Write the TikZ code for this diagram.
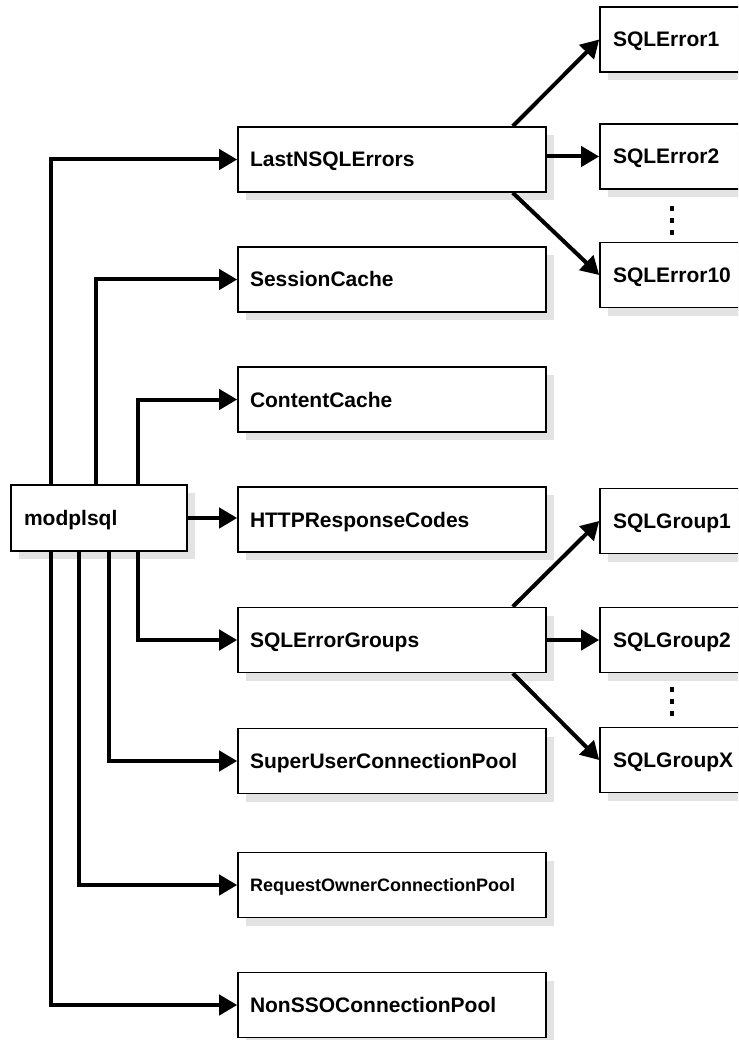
\documentclass[tikz,border=0pt]{standalone}
\usepackage{fontspec}
\setmainfont{Liberation Sans}
\usetikzlibrary{arrows.meta,shadows}
\begin{document}
\begin{tikzpicture}[x=1pt,y=-1pt,
  basebox/.style={draw, line width=1.6pt, fill=white, minimum height=65pt,
    align=left, text height=15pt, text depth=0pt,
    font=\bfseries\fontsize{21}{24}\selectfont,
    drop shadow={shadow xshift=8pt, shadow yshift=-8pt, fill=black!11, opacity=1}},
  midbox/.style={basebox, text width=284pt, inner xsep=12pt},
  rbox/.style={basebox, text width=134pt, inner xsep=13pt},
  conn/.style={line width=4pt, -{Triangle[length=18pt,width=20pt]}},
  dotmark/.style={fill=black}
]
\clip (0,0) rectangle (738,1040);
\fill[white] (0,0) rectangle (738,1040);

\node[basebox, text width=150pt, inner xsep=13pt, minimum height=66pt] (mod) at (99,518) {modplsql};

\node[midbox] (last) at (392,159.5) {LastNSQLErrors};
\node[midbox] (sess) at (392,279.5) {SessionCache};
\node[midbox] (cont) at (392,399.5) {ContentCache};
\node[midbox] (http) at (392,519.5) {HTTPResponseCodes};
\node[midbox] (grps) at (392,640) {SQLErrorGroups};
\node[midbox] (super) at (392,761) {SuperUserConnectionPool};
\node[midbox, text height=13pt, font=\bfseries\fontsize{18}{21}\selectfont] (req) at (392,885) {RequestOwnerConnectionPool};
\node[midbox] (nonsso) at (392,1005) {NonSSOConnectionPool};

\node[rbox] (e1) at (680,39.5) {SQLError1};
\node[rbox] (e2) at (680,156.5) {SQLError2};
\node[rbox] (e10) at (680,275) {SQLError10};
\node[rbox] (g1) at (680,521) {SQLGroup1};
\node[rbox] (g2) at (680,640) {SQLGroup2};
\node[rbox] (gx) at (680,760) {SQLGroupX};

% connectors from modplsql
\draw[conn] ([xshift=41pt]mod.north west) |- (last.west);
\draw[conn] ([xshift=86pt]mod.north west) |- (sess.west);
\draw[conn] ([xshift=128pt]mod.north west) |- (cont.west);
\draw[conn] (mod.east) -- (mod.east -| http.west);
\draw[conn] ([xshift=128pt]mod.south west) |- (grps.west);
\draw[conn] ([xshift=99pt]mod.south west) |- (super.west);
\draw[conn] ([xshift=69pt]mod.south west) |- (req.west);
\draw[conn] ([xshift=41pt]mod.south west) |- (nonsso.west);

% LastNSQLErrors children
\draw[conn] ([xshift=-34pt]last.north east) -- (e1.west);
\draw[conn] (last.east |- e2.west) -- (e2.west);
\draw[conn] ([xshift=-34pt]last.south east) -- (e10.west);

% SQLErrorGroups children
\draw[conn] ([xshift=-34pt]grps.north east) -- (g1.west);
\draw[conn] (grps.east) -- (g2.west);
\draw[conn] ([xshift=-34pt]grps.south east) -- (gx.west);

% vertical ellipses
\foreach \yy in {206,218,230} \fill[dotmark] (670,\yy) rectangle (674,\yy+5);
\foreach \yy in {687,699,711} \fill[dotmark] (670,\yy) rectangle (674,\yy+5);
\end{tikzpicture}
\end{document}
